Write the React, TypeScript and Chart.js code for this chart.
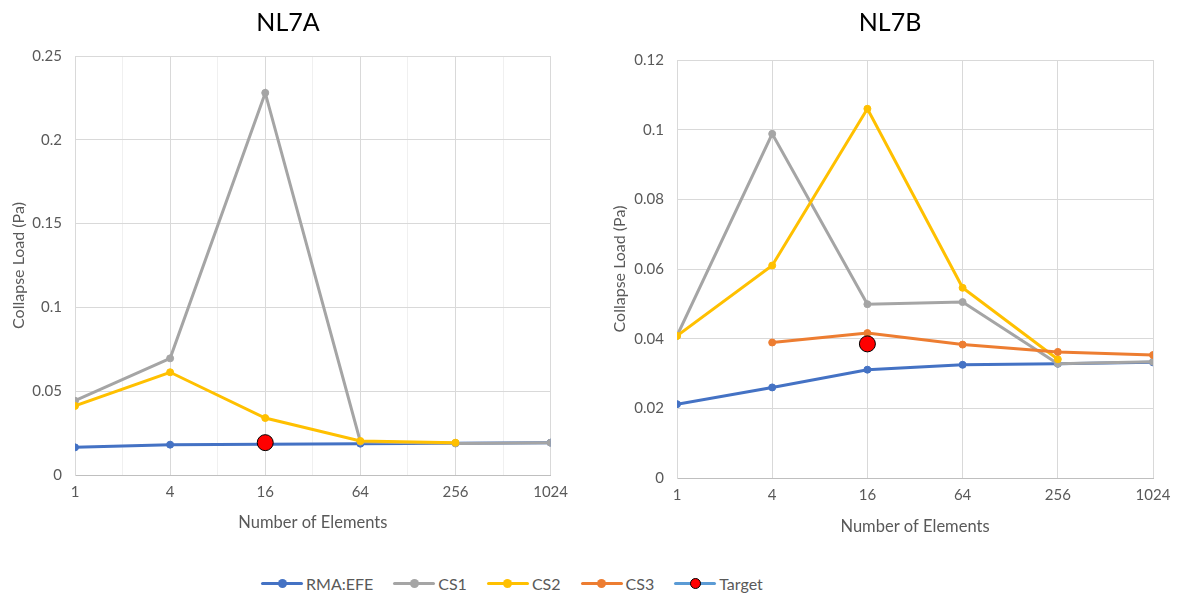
import React, { useEffect, useRef } from 'react';
import { Chart, registerables } from 'chart.js';

Chart.register(...registerables);

// ---------- data ----------
const elements = [1, 4, 16, 64, 256, 1024];
const seriesNames = ['RMA:EFE', 'CS1', 'CS2', 'CS3', 'Target'];

const nl7aRma = [0.0165, 0.0181, 0.0183, 0.0187, 0.019, 0.0193];
const nl7aCs1 = [0.0443, 0.0696, 0.228, 0.0199, 0.0188, 0.0193];
const nl7aCs2 = [0.0412, 0.0613, 0.034, 0.0203, 0.0193, null];
const nl7aTarget = [null, null, 0.0193, null, null, null];

const nl7bRma = [0.0212, 0.026, 0.0311, 0.0325, 0.0328, 0.0332];
const nl7bCs1 = [0.0408, 0.0988, 0.0499, 0.0505, 0.0328, 0.0334];
const nl7bCs2 = [0.0408, 0.061, 0.106, 0.0546, 0.0341, null];
const nl7bCs3 = [null, 0.0389, 0.0416, 0.0383, 0.0362, 0.0353];
const nl7bTarget = [null, null, 0.0385, null, null, null];

// ---------- styles ----------
const FONT = 'Lato, "Open Sans", sans-serif';
const TEXT = '#595959';
const colors: Record<string, string> = {
  'RMA:EFE': '#4472C4',
  CS1: '#A5A5A5',
  CS2: '#FFC000',
  CS3: '#ED7D31',
  Target: '#5B9BD5',
};
const drawOrder: Record<string, number> = { 'RMA:EFE': 4, CS1: 3, CS2: 2, CS3: 1, Target: 0 };

function toPoints(values: (number | null)[]) {
  return elements.map((n, i) => ({ x: Math.log2(n), y: values[i] }));
}

function makeDataset(name: string, values: (number | null)[]) {
  const c = colors[name];
  const isTarget = name === 'Target';
  return {
    label: name,
    data: toPoints(values),
    borderColor: c,
    backgroundColor: c,
    borderWidth: 3,
    pointRadius: isTarget ? 8 : 3.5,
    pointBorderWidth: 1,
    pointBackgroundColor: isTarget ? '#FF0000' : c,
    pointBorderColor: isTarget ? '#000000' : c,
    order: drawOrder[name],
    showLine: !isTarget,
  };
}

type PanelProps = {
  title: string;
  series: { name: string; values: (number | null)[] }[];
  yMax: number;
  yStep: number;
  minorGrid: boolean;
  left: number;
  width: number;
  height: number;
  padLeft: number;
  yAxisWidth: number;
  padRight: number;
  titlePadBottom: number;
  xAxisHeight: number;
  xTitlePadBottom: number;
  yTitlePadTop: number;
};

function Panel(p: PanelProps) {
  const ref = useRef<HTMLCanvasElement | null>(null);
  useEffect(() => {
    if (!ref.current) return;
    const chart = new Chart(ref.current, {
      type: 'line',
      data: { datasets: p.series.map((s) => makeDataset(s.name, s.values)) as any },
      options: {
        animation: false,
        responsive: false,
        devicePixelRatio: 1,
        layout: { padding: { left: p.padLeft, right: p.padRight, top: 0, bottom: 0 } },
        plugins: {
          legend: { display: false },
          tooltip: { enabled: false },
          title: {
            display: true,
            text: p.title,
            color: '#000000',
            font: { family: FONT, size: 25, weight: 'normal' },
            padding: { top: 7.8, bottom: p.titlePadBottom },
          },
        },
        scales: {
          x: {
            type: 'linear',
            min: 0,
            max: 10,
            afterFit: (s: any) => {
              s.height = p.xAxisHeight;
            },
            ticks: {
              stepSize: 1,
              autoSkip: false,
              maxRotation: 0,
              color: TEXT,
              padding: 8,
              font: { family: FONT, size: 15 },
              callback: (v: any) => {
                const val = Number(v);
                if (val % 2 === 0) return String(Math.pow(2, val));
                return p.minorGrid ? '' : null;
              },
            },
            grid: {
              drawTicks: false,
              color: (ctx: any) => {
                const val = ctx.tick ? ctx.tick.value : 0;
                return val % 2 === 0 ? '#D9D9D9' : '#F0F0F0';
              },
            },
            border: { color: '#BFBFBF', width: 1 },
            title: {
              display: true,
              text: 'Number of Elements',
              color: TEXT,
              font: { family: FONT, size: 16.5 },
              padding: { top: 0, bottom: p.xTitlePadBottom },
            },
          },
          y: {
            min: 0,
            max: p.yMax,
            afterFit: (s: any) => {
              s.width = p.yAxisWidth;
            },
            ticks: {
              stepSize: p.yStep,
              color: TEXT,
              padding: 13,
              font: { family: FONT, size: 15 },
              callback: (v: any) => String(Number(Number(v).toFixed(3))),
            },
            grid: { drawTicks: false, color: '#D9D9D9' },
            border: { color: '#D9D9D9', width: 1 },
            title: {
              display: true,
              text: 'Collapse Load (Pa)',
              color: TEXT,
              font: { family: FONT, size: 16 },
              padding: { top: p.yTitlePadTop, bottom: 0 },
            },
          },
        },
      } as any,
    });
    return () => chart.destroy();
  }, []);
  return (
    <canvas
      ref={ref}
      width={p.width}
      height={p.height}
      style={{ position: 'absolute', left: p.left, top: 0, width: p.width, height: p.height }}
    />
  );
}

function LegendIcon({ name }: { name: string }) {
  const isTarget = name === 'Target';
  return (
    <div style={{ position: 'relative', width: 42, height: 16, flex: 'none' }}>
      <div
        style={{
          position: 'absolute',
          left: 0,
          top: 6.5,
          width: 42,
          height: 3,
          background: colors[name],
          borderRadius: 1.5,
        }}
      />
      <div
        style={{
          position: 'absolute',
          left: isTarget ? 15.5 : 16.5,
          top: isTarget ? 2.5 : 3.5,
          width: 9,
          height: 9,
          borderRadius: '50%',
          background: isTarget ? '#FF0000' : colors[name],
          border: isTarget ? '1.5px solid #000' : 'none',
          boxSizing: 'content-box',
        }}
      />
    </div>
  );
}

export default function App() {
  return (
    <div
      style={{
        position: 'fixed',
        left: 0,
        top: 0,
        width: 1179,
        height: 597,
        background: '#ffffff',
        overflow: 'hidden',
      }}
    >
      <Panel
        title="NL7A"
        series={[
          { name: 'RMA:EFE', values: nl7aRma },
          { name: 'CS1', values: nl7aCs1 },
          { name: 'CS2', values: nl7aCs2 },
          { name: 'Target', values: nl7aTarget },
        ]}
        yMax={0.25}
        yStep={0.05}
        minorGrid={true}
        left={0}
        width={576}
        height={545}
        padLeft={24}
        yAxisWidth={51}
        padRight={24}
        titlePadBottom={18.2}
        xAxisHeight={70}
        xTitlePadBottom={12.6}
        yTitlePadTop={-15.1}
      />
      <Panel
        title="NL7B"
        series={[
          { name: 'RMA:EFE', values: nl7bRma },
          { name: 'CS1', values: nl7bCs1 },
          { name: 'CS2', values: nl7bCs2 },
          { name: 'CS3', values: nl7bCs3 },
          { name: 'Target', values: nl7bTarget },
        ]}
        yMax={0.12}
        yStep={0.02}
        minorGrid={false}
        left={600}
        width={579}
        height={545}
        padLeft={27}
        yAxisWidth={50}
        padRight={26}
        titlePadBottom={22.2}
        xAxisHeight={67}
        xTitlePadBottom={8.6}
        yTitlePadTop={-16.6}
      />
      <div
        style={{
          position: 'absolute',
          left: 261,
          top: 573,
          height: 20,
          display: 'flex',
          alignItems: 'center',
          fontFamily: FONT,
          fontSize: 16,
          color: TEXT,
          whiteSpace: 'nowrap',
        }}
      >
        {seriesNames.map((name) => (
          <div key={name} style={{ display: 'flex', alignItems: 'center', marginRight: 20 }}>
            <LegendIcon name={name} />
            <span style={{ marginLeft: 3 }}>{name}</span>
          </div>
        ))}
      </div>
    </div>
  );
}
